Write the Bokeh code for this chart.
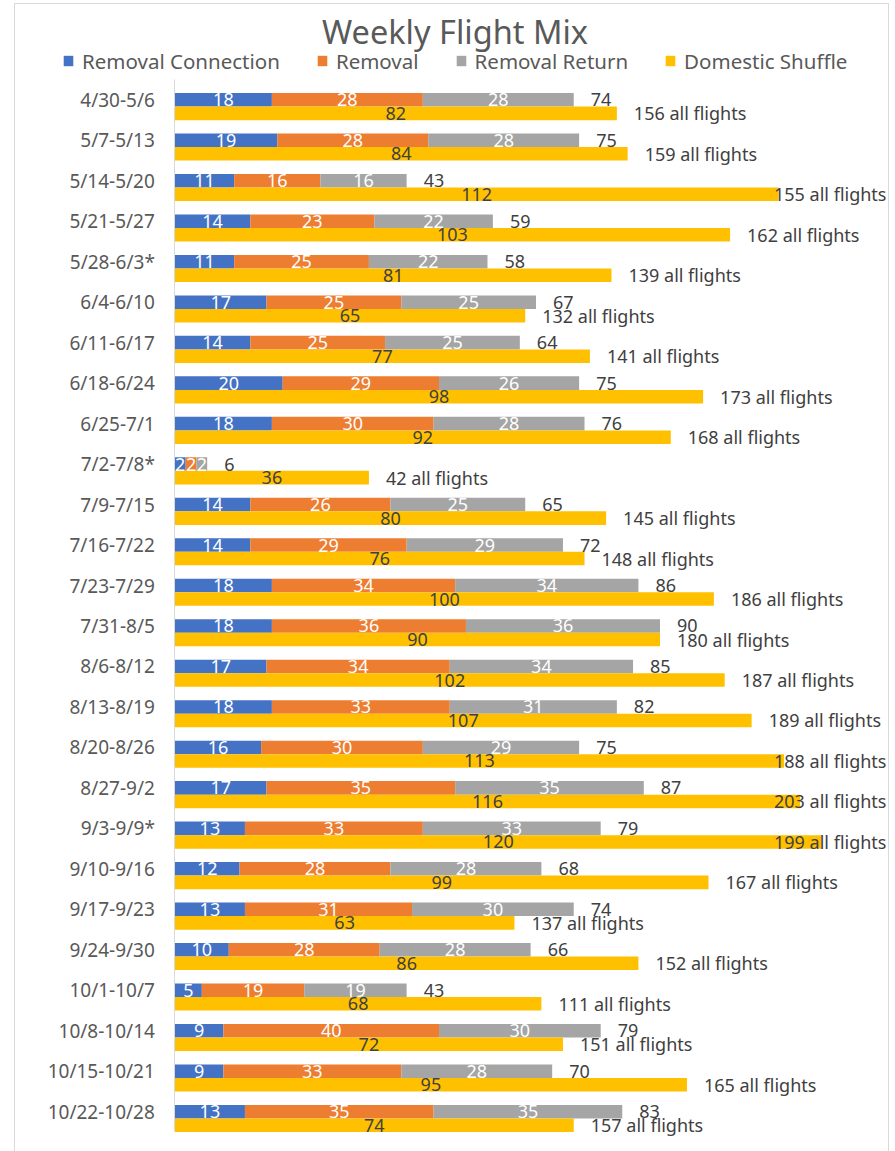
from bokeh.plotting import figure
from bokeh.models import ColumnDataSource, Range1d, FixedTicker, Legend, LegendItem, Label
from bokeh.core.properties import value
from bokeh.embed import file_html
from bokeh.resources import INLINE

# ---------------- data ----------------
weeks = ["4/30-5/6", "5/7-5/13", "5/14-5/20", "5/21-5/27", "5/28-6/3*", "6/4-6/10",
         "6/11-6/17", "6/18-6/24", "6/25-7/1", "7/2-7/8*", "7/9-7/15", "7/16-7/22",
         "7/23-7/29", "7/31-8/5", "8/6-8/12", "8/13-8/19", "8/20-8/26", "8/27-9/2",
         "9/3-9/9*", "9/10-9/16", "9/17-9/23", "9/24-9/30", "10/1-10/7", "10/8-10/14",
         "10/15-10/21", "10/22-10/28"]
removal_connection = [18, 19, 11, 14, 11, 17, 14, 20, 18, 2, 14, 14, 18, 18, 17, 18, 16, 17, 13, 12, 13, 10, 5, 9, 9, 13]
removal = [28, 28, 16, 23, 25, 25, 25, 29, 30, 2, 26, 29, 34, 36, 34, 33, 30, 35, 33, 28, 31, 28, 19, 40, 33, 35]
removal_return = [28, 28, 16, 22, 22, 25, 25, 26, 28, 2, 25, 29, 34, 36, 34, 31, 29, 35, 33, 28, 30, 28, 19, 30, 28, 35]
domestic_shuffle = [82, 84, 112, 103, 81, 65, 77, 98, 92, 36, 80, 76, 100, 90, 102, 107, 113, 116, 120, 99, 63, 86, 68, 72, 95, 74]

series_names = ["Removal Connection", "Removal", "Removal Return", "Domestic Shuffle"]

# ---------------- style / layout ----------------
BLUE, ORANGE, GRAY, YELLOW = "#4472C4", "#ED7D31", "#A5A5A5", "#FFC000"
DARK, AXIS_TXT = "#404040", "#595959"
FONT = "Noto Sans"
BAR_H = 0.335
LABEL_CAP = 108          # all-flights labels are kept inside the plot area

FIG_W, FIG_H = 875, 1148
CANVAS_W, CANVAS_H = FIG_W - 2, FIG_H - 1     # minus border
PX_PER_UNIT = 5.378      # horizontal scale
AXIS_PX = 159            # distance from canvas left to value 0
BAND_PX = 40.44          # height of one week band
TOP_PX = 75              # space above the first band (title + legend)

n = len(weeks)
ypos = list(range(n))
y_ds = [y + BAR_H for y in ypos]
stack_total = [a + b + c for a, b, c in zip(removal_connection, removal, removal_return)]
all_flights = [t + d for t, d in zip(stack_total, domestic_shuffle)]

src = ColumnDataSource(dict(
    y=ypos, y_ds=y_ds,
    rc=removal_connection, r=removal, rr=removal_return, ds=domestic_shuffle,
))

x0 = -AXIS_PX / PX_PER_UNIT
x1 = (CANVAS_W - AXIS_PX) / PX_PER_UNIT
y_top = -0.5 - TOP_PX / BAND_PX
y_bot = y_top + CANVAS_H / BAND_PX

p = figure(width=FIG_W, height=FIG_H,
           x_range=Range1d(x0, x1), y_range=Range1d(y_bot, y_top),
           output_backend="svg", toolbar_location=None, title=None,
           x_axis_location=None,
           min_border_left=0, min_border_right=0, min_border_top=0, min_border_bottom=0)
p.margin = (3, 0, 0, 14)
p.styles = {"border-top": "1px solid #d9d9d9", "border-left": "1px solid #d9d9d9",
            "border-right": "1px solid #d9d9d9"}
p.xgrid.visible = False
p.ygrid.visible = False
p.outline_line_color = None

stack = p.hbar_stack(["rc", "r", "rr"], y="y", height=BAR_H,
                     fill_color=[BLUE, ORANGE, GRAY], line_color=None, source=src)
ds_r = p.hbar(y="y_ds", left=0, right="ds", height=BAR_H,
              fill_color=YELLOW, line_color=None, source=src)

# segment labels (white, centred)
seg_x, seg_y, seg_t = [], [], []
for i in range(n):
    left = 0
    for v in (removal_connection[i], removal[i], removal_return[i]):
        seg_x.append(left + v / 2)
        seg_y.append(ypos[i])
        seg_t.append(str(v))
        left += v
p.text(x=seg_x, y=seg_y, text=seg_t, text_color="white", text_align="center",
       text_baseline="middle", text_font=value(FONT), text_font_size="18px")

# stacked totals
p.text(x=stack_total, y=ypos, text=[str(t) for t in stack_total], x_offset=17,
       text_color=DARK, text_align="left", text_baseline="middle",
       text_font=value(FONT), text_font_size="18px")

# domestic shuffle values
p.text(x=[d / 2 for d in domestic_shuffle], y=y_ds, text=[str(d) for d in domestic_shuffle],
       text_color=DARK, text_align="center", text_baseline="middle",
       text_font=value(FONT), text_font_size="18px")

# all flights
p.text(x=[min(d, LABEL_CAP) for d in domestic_shuffle], y=y_ds,
       text=[f"{a} all flights" for a in all_flights], x_offset=17,
       text_color=DARK, text_align="left", text_baseline="middle",
       text_font=value(FONT), text_font_size="18px")

# y axis (drawn at value 0 inside the frame)
yax = p.yaxis[0]
yax.fixed_location = 0
yax.ticker = FixedTicker(ticks=ypos, minor_ticks=[])
yax.major_label_overrides = {i: w for i, w in enumerate(weeks)}
yax.bounds = (-0.5, n - 0.5)
yax.axis_line_color = "#d9d9d9"
yax.major_tick_line_color = None
yax.minor_tick_line_color = None
yax.major_tick_out = 0
yax.major_tick_in = 0
yax.major_label_standoff = 20
yax.major_label_text_font = FONT
yax.major_label_text_font_size = "19px"
yax.major_label_text_color = AXIS_TXT

# legend
LEG_H = 26
legend = Legend(items=[
    LegendItem(label=series_names[0], renderers=[stack[0]]),
    LegendItem(label=series_names[1], renderers=[stack[1]]),
    LegendItem(label=series_names[2], renderers=[stack[2]]),
    LegendItem(label=series_names[3], renderers=[ds_r]),
], orientation="horizontal", location=(47, CANVAS_H - 43.5 - LEG_H), padding=0, margin=0,
    spacing=36, label_standoff=8, glyph_width=12, glyph_height=13,
    border_line_color=None, background_fill_alpha=0,
    label_text_font=FONT, label_text_font_size="20.5px", label_text_color=AXIS_TXT)
p.add_layout(legend, "center")

title = Label(x=439.5, y=CANVAS_H - 26, x_units="screen", y_units="screen",
              text="Weekly Flight Mix", text_align="center", text_baseline="middle",
              text_font=FONT, text_font_size="32.5px", text_color=AXIS_TXT)
p.add_layout(title)

open("out.html", "w").write(file_html(p, INLINE))
